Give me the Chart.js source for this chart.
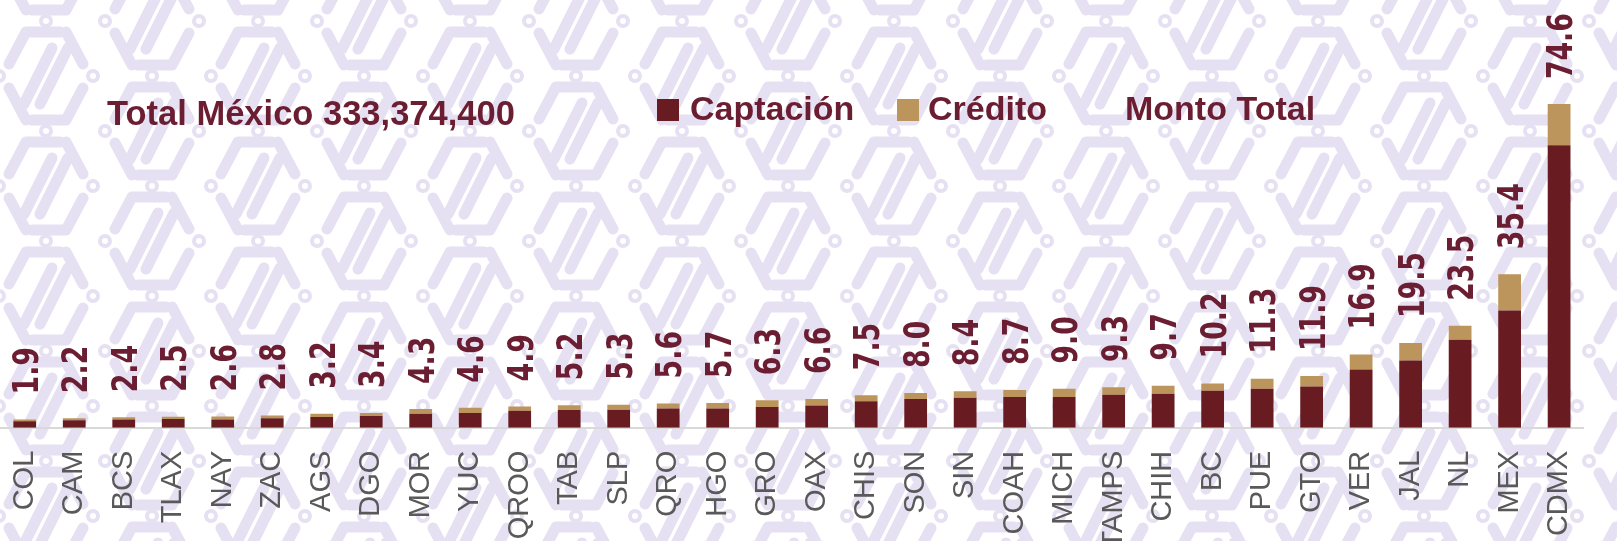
<!DOCTYPE html>
<html>
<head>
<meta charset="utf-8">
<script src="https://cdn.jsdelivr.net/npm/chart.js@4.4.1/dist/chart.umd.min.js"></script>
<style>
  body { margin: 0; background: #fff; }
  #wrap { position: relative; width: 1617px; height: 541px; overflow: hidden; }
  #bg, #chart { position: absolute; left: 0; top: 0; }
  .lg { position: absolute; font-family: 'Liberation Sans', Arial, sans-serif; font-weight: bold;
        color: #6b1d31; font-size: 34px; line-height: 34px; white-space: nowrap; }
  .sq { position: absolute; width: 22px; height: 22px; }
</style>
</head>
<body>
<div id="wrap">
  <canvas id="bg" width="1617" height="541"></canvas>
  <canvas id="chart" width="1617" height="541"></canvas>
  <div class="lg" style="left:107px;top:96px;font-size:34.5px;line-height:34.5px">Total México 333,374,400</div>
  <div class="sq" style="left:657px;top:99px;background:#681c22"></div>
  <div class="lg" style="left:690px;top:91px">Captación</div>
  <div class="sq" style="left:897px;top:99px;background:#bc955c"></div>
  <div class="lg" style="left:928px;top:91px">Crédito</div>
  <div class="lg" style="left:1125px;top:91px">Monto Total</div>
</div>
<script>
let estados = ['COL','CAM','BCS','TLAX','NAY','ZAC','AGS','DGO','MOR','YUC','QROO','TAB','SLP','QRO','HGO','GRO',
               'OAX','CHIS','SON','SIN','COAH','MICH','TAMPS','CHIH','BC','PUE','GTO','VER','JAL','NL','MEX','CDMX'];
let captacion = [1.5,1.7,1.9,2.0,1.9,2.15,2.45,2.7,3.2,3.4,3.9,4.1,4.15,4.4,4.4,4.8,
                 5.1,6.1,6.6,6.9,7.1,7.1,7.6,7.8,8.5,9.0,9.5,13.4,15.5,20.3,27.0,65.1];
let credito = [0.4,0.5,0.5,0.5,0.7,0.65,0.75,0.7,1.1,1.2,1.0,1.1,1.15,1.2,1.3,1.5,
               1.5,1.4,1.4,1.5,1.6,1.9,1.7,1.9,1.7,2.3,2.4,3.5,4.0,3.2,8.4,9.5];
let montoTotal = [1.9,2.2,2.4,2.5,2.6,2.8,3.2,3.4,4.3,4.6,4.9,5.2,5.3,5.6,5.7,6.3,
                  6.6,7.5,8.0,8.4,8.7,9.0,9.3,9.7,10.2,11.3,11.9,16.9,19.5,23.5,35.4,74.6];

// fondo con el patron lila
let knot = (c, x, y) => {
    c.beginPath();
    c.moveTo(x-20, y-44); c.lineTo(x+14, y-44);
    c.moveTo(x+20, y-44); c.lineTo(x+37, y-12);
    c.moveTo(x+37, y+12); c.lineTo(x+20, y+44);
    c.moveTo(x+20, y+44); c.lineTo(x-14, y+44);
    c.moveTo(x-20, y+44); c.lineTo(x-37, y+12);
    c.moveTo(x-37, y-12); c.lineTo(x-20, y-44);
    c.moveTo(x-22, y+28); c.lineTo(x+6, y-28);
    c.moveTo(x-6, y+28); c.lineTo(x+22, y-28);
    c.lineWidth = 11;
    c.stroke();
    c.lineWidth = 4;
    [[x-47, y], [x+47, y], [x, y+55]].forEach(([rx, ry]) => {
        c.beginPath();
        c.arc(rx, ry, 5, 0, Math.PI * 2);
        c.stroke();
    });
};
let bg = document.getElementById('bg').getContext('2d');
bg.fillStyle = '#ffffff';
bg.fillRect(0, 0, 1617, 541);
bg.strokeStyle = '#e6e0f3';
bg.lineJoin = 'round';
bg.lineCap = 'round';
for (let k = -1; k < 17; k++) {
    for (let j = -1; j < 6; j++) {
        knot(bg, 46 + 106 * k, 76 + 110 * j + (k % 2 ? 55 : 0));
    }
}

const totalLabels = {
    id: 'totalLabels',
    afterDatasetsDraw(chart) {
        const ctx = chart.ctx;
        const meta = chart.getDatasetMeta(2);
        ctx.save();
        ctx.fillStyle = '#6b1d31';
        ctx.font = 'bold 35px "DejaVu Sans Condensed", "DejaVu Sans", sans-serif';
        ctx.textAlign = 'left';
        ctx.textBaseline = 'alphabetic';
        meta.data.forEach((pt, i) => {
            ctx.save();
            ctx.translate(pt.x + 13, pt.y - 25);
            ctx.rotate(-Math.PI / 2);
            ctx.scale(0.85, 1);
            ctx.fillText(montoTotal[i].toFixed(1), 0, 0);
            ctx.restore();
        });
        ctx.restore();
    }
};

let ctx = document.getElementById('chart').getContext('2d');
let chart = new Chart(ctx, {
    type: 'bar',
    data: {
        labels: estados,
        datasets: [{
            label: 'Captación',
            data: captacion,
            backgroundColor: '#681c22',
            categoryPercentage: 1,
            barPercentage: 0.46
        }, {
            label: 'Crédito',
            data: credito,
            backgroundColor: '#bc955c',
            categoryPercentage: 1,
            barPercentage: 0.46
        }, {
            type: 'line',
            label: 'Monto Total',
            data: montoTotal,
            showLine: false,
            pointRadius: 0,
            borderColor: 'rgba(0,0,0,0)',
            backgroundColor: 'rgba(0,0,0,0)'
        }]
    },
    options: {
        responsive: false,
        animation: false,
        layout: {
            autoPadding: false,
            padding: { top: 80.7, left: 0, right: 6, bottom: 0 }
        },
        plugins: {
            legend: { display: false },
            tooltip: { enabled: false }
        },
        scales: {
            x: {
                stacked: true,
                grid: { display: false, drawTicks: false },
                border: { color: '#d9d9d9', width: 2 },
                ticks: {
                    color: '#595959',
                    autoSkip: false,
                    minRotation: 90,
                    maxRotation: 90,
                    padding: 23,
                    font: { family: "'Liberation Sans Narrow', 'Liberation Sans', Arial", size: 29 }
                },
                afterFit: (scale) => { scale.height = 113.3; }
            },
            y: {
                stacked: true,
                display: false,
                min: 0,
                max: 80
            }
        }
    },
    plugins: [totalLabels]
});
</script>
</body>
</html>
